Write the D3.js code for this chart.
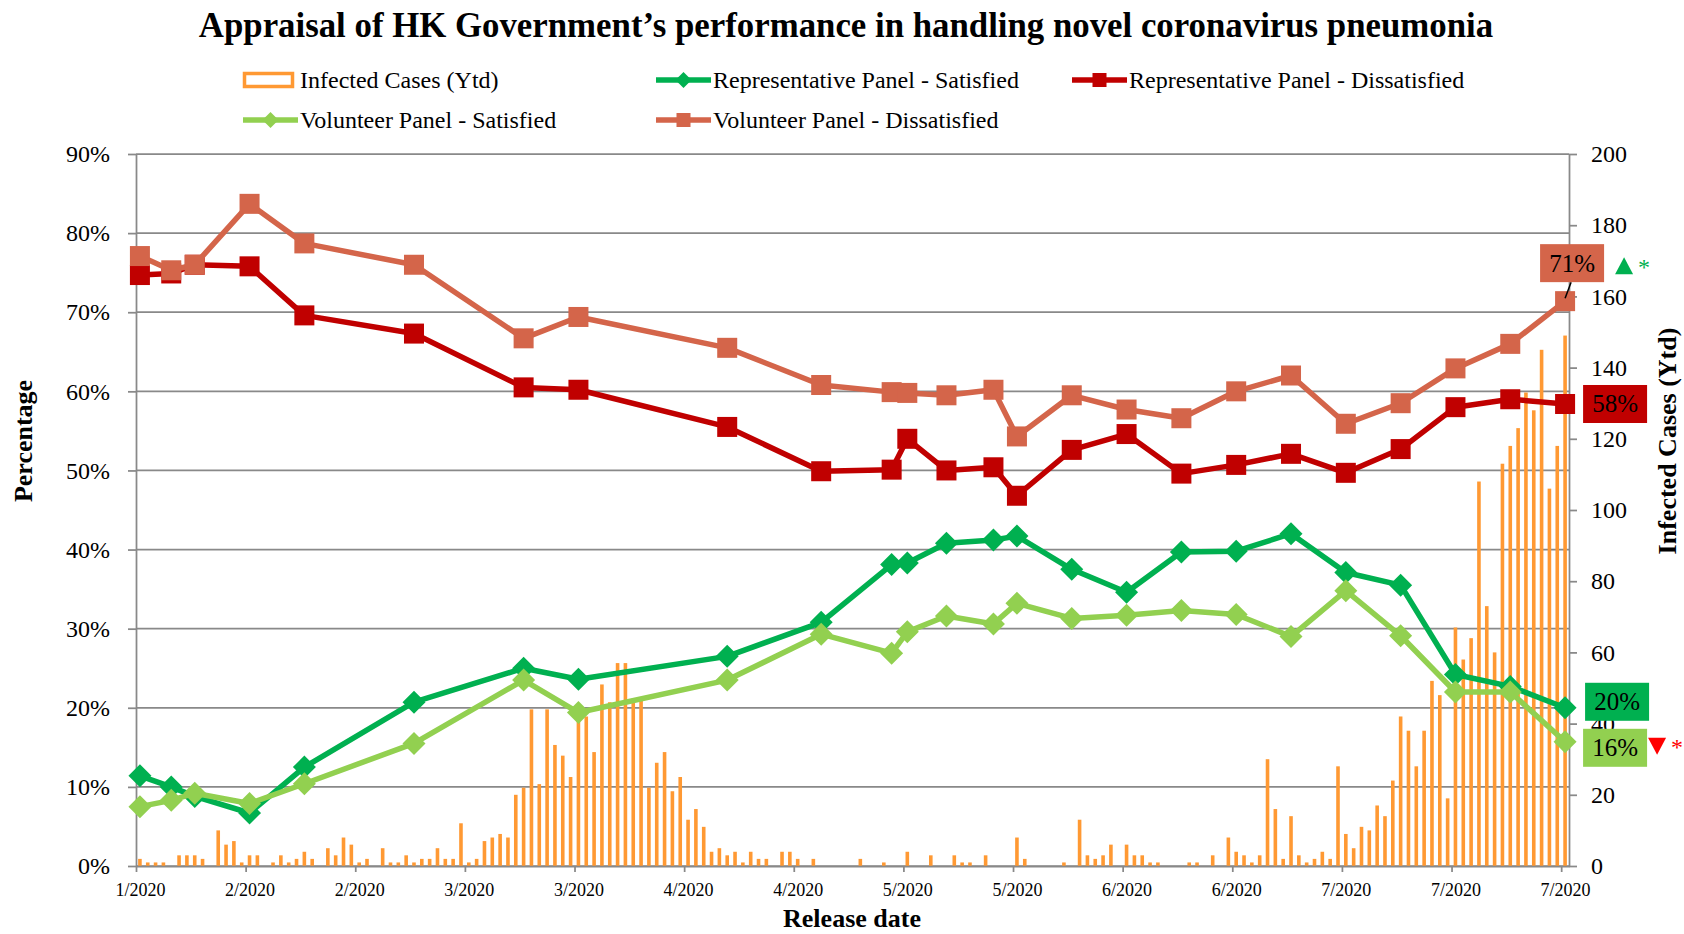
<!DOCTYPE html>
<html>
<head>
<meta charset="utf-8">
<script src="https://cdn.jsdelivr.net/npm/d3@7"></script>
<style>
body { margin: 0; background: #fff; }
text { font-family: "Liberation Serif", "Times New Roman", serif; }
</style>
</head>
<body>
<div id="chart"></div>
<script>
// Data
var start_date       = new Date(2020, 0, 31);
// release dates, in days after start_date
var survey_days      = [0, 4, 7, 14, 21, 35, 49, 56, 75, 87, 96, 98, 103, 109, 112, 119, 126, 133, 140, 147, 154, 161, 168, 175, 182];
var rep_satisfied    = [11.4, 10.0, 8.8, 6.7, 12.5, 20.7, 25.0, 23.6, 26.5, 30.8, 38.1, 38.3, 40.8, 41.2, 41.7, 37.5, 34.6, 39.7, 39.8, 42.0, 37.1, 35.5, 24.2, 22.7, 20.0];
var rep_dissatisfied = [74.7, 74.9, 76.0, 75.8, 69.6, 67.3, 60.5, 60.2, 55.5, 49.9, 50.1, 54.0, 50.0, 50.4, 46.8, 52.6, 54.6, 49.6, 50.7, 52.1, 49.7, 52.7, 58.0, 59.0, 58.4];
var vol_satisfied    = [7.5, 8.3, 9.2, 7.9, 10.4, 15.5, 23.5, 19.4, 23.5, 29.3, 26.9, 29.6, 31.6, 30.6, 33.2, 31.3, 31.7, 32.3, 31.8, 29.0, 34.8, 29.1, 22.0, 22.0, 15.7];
var vol_dissatisfied = [77.1, 75.3, 76.0, 83.7, 78.7, 76.0, 66.7, 69.4, 65.5, 60.8, 59.9, 59.8, 59.5, 60.2, 54.3, 59.5, 57.7, 56.6, 60.0, 62.0, 55.9, 58.5, 62.9, 66.0, 71.4];
// one value per day from start_date
var cases_ytd = [
	2, 1, 1, 1, 0, 3, 3, 3, 2, 0, 10, 6, 7, 1, 3, 3, 0, 1, 3, 1,
	2, 4, 2, 0, 5, 3, 8, 6, 1, 2, 0, 5, 1, 1, 3, 1, 2, 2, 5, 2,
	2, 12, 1, 2, 7, 8, 9, 8, 20, 22, 44, 23, 44, 34, 31, 25, 42, 42, 32, 51,
	46, 57, 57, 47, 47, 22, 29, 32, 21, 25, 13, 16, 11, 4, 5, 3, 4, 1, 4, 2,
	2, 0, 4, 4, 2, 0, 2, 0, 0, 0, 0, 0, 2, 0, 0, 1, 0, 0, 4, 0,
	0, 3, 0, 0, 3, 1, 1, 0, 3, 0, 0, 0, 8, 2, 0, 0, 0, 0, 1, 0,
	13, 3, 2, 3, 6, 0, 6, 3, 3, 1, 1, 0, 0, 0, 1, 1, 0, 3, 0, 8,
	4, 3, 1, 3, 30, 16, 2, 14, 3, 1, 2, 4, 2, 28, 9, 5, 11, 10, 17, 14,
	24, 42, 38, 28, 38, 52, 48, 19, 67, 58, 64, 108, 73, 60, 113, 118, 123, 133, 128, 145,
	106, 118, 149
];
var pct_ticks   = [0, 10, 20, 30, 40, 50, 60, 70, 80, 90];
var case_ticks  = [0, 20, 40, 60, 80, 100, 120, 140, 160, 180, 200];
var series_names = ['Infected Cases (Ytd)', 'Representative Panel - Satisfied', 'Representative Panel - Dissatisfied',
	'Volunteer Panel - Satisfied', 'Volunteer Panel - Dissatisfied'];

// Width and height
var chart_width  = 1684;
var chart_height = 934;
var plot = {left: 136, right: 1569, top: 154, bottom: 866};

var c_bar     = '#FF9933';
var c_rep_sat = '#00B050';
var c_rep_dis = '#C00000';
var c_vol_sat = '#92D050';
var c_vol_dis = '#D4654A';
var c_grid    = '#898989';

var day = (k) => d3.timeDay.offset(start_date, k);
var last_day = survey_days[survey_days.length - 1];

var x = d3.scaleTime()
	.domain([d3.timeHour.offset(day(0), -12), d3.timeHour.offset(day(last_day), 12)])
	.range([plot.left, plot.right]);
var y = d3.scaleLinear().domain([0, 90]).range([plot.bottom, plot.top]);
var y2 = d3.scaleLinear().domain([0, 200]).range([plot.bottom, plot.top]);
var half_day = (x(day(1)) - x(day(0))) / 2;

var svg = d3.select('#chart')
	.append('svg')
	.attr('width', chart_width)
	.attr('height', chart_height);

// gridlines
svg.append('g')
	.selectAll('line')
	.data(pct_ticks)
	.enter()
	.append('line')
	.attr('x1', plot.left)
	.attr('x2', plot.right)
	.attr('y1', (d) => y(d))
	.attr('y2', (d) => y(d))
	.attr('stroke', c_grid)
	.attr('stroke-width', 1.75);

// bars
svg.append('g')
	.selectAll('rect')
	.data(cases_ytd)
	.enter()
	.append('rect')
	.attr('x', (d, i) => x(day(i)) - 1.8)
	.attr('width', 3.6)
	.attr('y', (d) => y2(d))
	.attr('height', (d) => plot.bottom - y2(d))
	.attr('fill', c_bar);

// axes
function style_axis(g, size){
	g.selectAll('path, line').attr('stroke', c_grid).attr('stroke-width', 1.75);
	g.selectAll('text')
		.attr('fill', '#000')
		.attr('font-size', size)
		.attr('font-family', '"Liberation Serif", "Times New Roman", serif');
}

var x_ticks = d3.range(0, last_day + 1, 14).map((k) => d3.timeHour.offset(day(k), -12));
svg.append('g')
	.attr('transform', 'translate(0,' + plot.bottom + ')')
	.call(d3.axisBottom(x)
		.tickValues(x_ticks)
		.tickSizeInner(6)
		.tickSizeOuter(0)
		.tickPadding(11)
		.tickFormat((d) => d3.timeFormat('%-m/%Y')(d3.timeHour.offset(d, 12))))
	.call((g) => style_axis(g, 18))
	.selectAll('text')
	.attr('dx', half_day);

svg.append('g')
	.attr('transform', 'translate(' + plot.left + ',0)')
	.call(d3.axisLeft(y)
		.tickValues(pct_ticks)
		.tickSizeInner(8)
		.tickSizeOuter(0)
		.tickPadding(18)
		.tickFormat((d) => d + '%'))
	.call((g) => style_axis(g, 24));

svg.append('g')
	.attr('transform', 'translate(' + plot.right + ',0)')
	.call(d3.axisRight(y2)
		.tickValues(case_ticks)
		.tickSizeInner(8)
		.tickSizeOuter(0)
		.tickPadding(14))
	.call((g) => style_axis(g, 24));

// lines
var series = [
	{values: rep_satisfied,    color: c_rep_sat, marker: 'diamond'},
	{values: rep_dissatisfied, color: c_rep_dis, marker: 'square'},
	{values: vol_satisfied,    color: c_vol_sat, marker: 'diamond'},
	{values: vol_dissatisfied, color: c_vol_dis, marker: 'square'}
];

var line = d3.line()
	.x((d) => x(day(d[0])))
	.y((d) => y(d[1]));

function marker(sel, type, r){
	if(type === 'square'){
		sel.append('rect')
			.attr('x', -r).attr('y', -r)
			.attr('width', 2 * r).attr('height', 2 * r);
	}else{
		sel.append('path')
			.attr('d', 'M0,' + (-r * 1.15) + 'L' + (r * 1.15) + ',0L0,' + (r * 1.15) + 'L' + (-r * 1.15) + ',0Z');
	}
}

series.forEach((s) => {
	var pts = survey_days.map((k, i) => [k, s.values[i]]);
	var g = svg.append('g');
	g.append('path')
		.attr('d', line(pts))
		.attr('fill', 'none')
		.attr('stroke', s.color)
		.attr('stroke-width', 5.5)
		.attr('stroke-linejoin', 'round');
	g.selectAll('g')
		.data(pts)
		.enter()
		.append('g')
		.attr('transform', (d) => 'translate(' + x(day(d[0])) + ',' + y(d[1]) + ')')
		.attr('fill', s.color)
		.each(function(){ marker(d3.select(this), s.marker, 10); });
});

// end labels
var end_labels = [
	{values: vol_dissatisfied, fill: c_vol_dis, dx: 7,  dy: -38, leader: true, trend: 'up'},
	{values: rep_dissatisfied, fill: c_rep_dis, dx: 50, dy: 0},
	{values: rep_satisfied,    fill: c_rep_sat, dx: 52, dy: -6},
	{values: vol_satisfied,    fill: c_vol_sat, dx: 50, dy: 6, trend: 'down'}
];
var last_i = survey_days.length - 1;
end_labels.forEach((l) => {
	var px = x(day(last_day));
	var py = y(l.values[last_i]);
	var cx = px + l.dx;
	var cy = py + l.dy;
	var g = svg.append('g');
	if(l.leader){
		g.append('line')
			.attr('x1', cx - 1).attr('y1', cy + 19)
			.attr('x2', px).attr('y2', py - 3)
			.attr('stroke', '#000').attr('stroke-width', 1.5);
	}
	g.append('rect')
		.attr('x', cx - 32).attr('y', cy - 19)
		.attr('width', 64).attr('height', 38)
		.attr('fill', l.fill);
	g.append('text')
		.attr('x', cx).attr('y', cy + 8.5)
		.attr('text-anchor', 'middle')
		.attr('font-size', 25)
		.text(Math.round(l.values[last_i]) + '%');
	if(l.trend){
		var tx = cx + (l.trend === 'up' ? 52 : 42);
		var ty = cy + (l.trend === 'up' ? 3 : -2);
		var col = l.trend === 'up' ? c_rep_sat : '#FF0000';
		var tri = l.trend === 'up'
			? 'M' + tx + ',' + (ty - 9) + 'L' + (tx + 9) + ',' + (ty + 8) + 'L' + (tx - 9) + ',' + (ty + 8) + 'Z'
			: 'M' + (tx - 9) + ',' + (ty - 8) + 'L' + (tx + 9) + ',' + (ty - 8) + 'L' + tx + ',' + (ty + 9) + 'Z';
		g.append('path').attr('d', tri).attr('fill', col);
		g.append('text')
			.attr('x', tx + 14).attr('y', ty + 9)
			.attr('font-size', 24)
			.attr('fill', col)
			.text('*');
	}
});

// title
svg.append('text')
	.text('Appraisal of HK Government\u2019s performance in handling novel coronavirus pneumonia')
	.attr('x', 846)
	.attr('y', 37)
	.attr('text-anchor', 'middle')
	.attr('font-size', 34.8)
	.attr('font-weight', 'bold');

// legend
var legend_cols = [243, 656, 1072];
var legend_rows = [80, 120];
var legend_colors = [c_bar, c_rep_sat, c_rep_dis, c_vol_sat, c_vol_dis];
var legend_markers = [null, 'diamond', 'square', 'diamond', 'square'];
series_names.forEach((name, i) => {
	var lx = legend_cols[i % 3];
	var ly = legend_rows[Math.floor(i / 3)];
	var g = svg.append('g');
	if(i === 0){
		g.append('rect')
			.attr('x', lx + 1.5).attr('y', ly - 6.5)
			.attr('width', 48).attr('height', 13)
			.attr('fill', '#fff')
			.attr('stroke', c_bar)
			.attr('stroke-width', 3.5);
	}else{
		g.append('line')
			.attr('x1', lx).attr('x2', lx + 55)
			.attr('y1', ly).attr('y2', ly)
			.attr('stroke', legend_colors[i])
			.attr('stroke-width', 5.5);
		g.append('g')
			.attr('transform', 'translate(' + (lx + 27.5) + ',' + ly + ')')
			.attr('fill', legend_colors[i])
			.call((m) => marker(m, legend_markers[i], 7));
	}
	g.append('text')
		.attr('x', lx + 57)
		.attr('y', ly + 8)
		.attr('font-size', 24)
		.text(name);
});

// axis titles
svg.append('text')
	.text('Percentage')
	.attr('transform', 'translate(32,441) rotate(-90)')
	.attr('text-anchor', 'middle')
	.attr('font-size', 26)
	.attr('font-weight', 'bold');

svg.append('text')
	.text('Release date')
	.attr('x', 852)
	.attr('y', 927)
	.attr('text-anchor', 'middle')
	.attr('font-size', 26)
	.attr('font-weight', 'bold');

svg.append('text')
	.text('Infected Cases (Ytd)')
	.attr('transform', 'translate(1676,441) rotate(-90)')
	.attr('text-anchor', 'middle')
	.attr('font-size', 26)
	.attr('font-weight', 'bold');
</script>
</body>
</html>
